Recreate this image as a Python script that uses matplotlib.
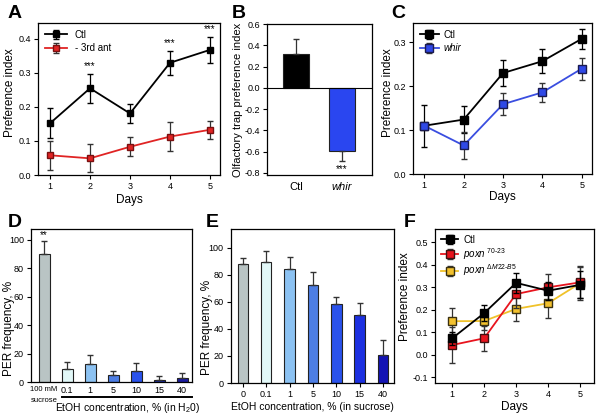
import numpy as np
import matplotlib
matplotlib.use("Agg")
import matplotlib.pyplot as plt

plt.rcParams['font.family'] = ['Liberation Sans', 'DejaVu Sans']
plt.rcParams['mathtext.fontset'] = 'custom'
plt.rcParams['mathtext.it'] = 'Liberation Sans:italic'
plt.rcParams['mathtext.rm'] = 'Liberation Sans'

# ---- data ----
days = [1, 2, 3, 4, 5]

# A
a_ctl = [0.152, 0.255, 0.181, 0.330, 0.368]
a_ctl_err = [0.044, 0.043, 0.029, 0.035, 0.038]
a_ant = [0.058, 0.049, 0.083, 0.113, 0.133]
a_ant_err = [0.043, 0.041, 0.028, 0.042, 0.027]
a_stars_days = [2, 4, 5]

# B
b_groups = ['Ctl', 'whir']
b_vals = [0.32, -0.59]
b_err = [0.14, 0.10]

# C
c_ctl = [0.110, 0.124, 0.230, 0.257, 0.308]
c_ctl_err = [0.048, 0.031, 0.029, 0.027, 0.023]
c_whir = [0.110, 0.065, 0.159, 0.186, 0.240]
c_whir_err = [0.0, 0.030, 0.025, 0.022, 0.025]

# D
d_labels = ['100 mM', '0.1', '1', '5', '10', '15', '40']
d_vals = [89.7, 8.9, 12.4, 4.7, 7.5, 1.6, 2.6]
d_err = [9.5, 5.3, 6.3, 2.8, 5.8, 2.8, 3.9]
d_colors = ['#b9c4c4', '#e2f8f8', '#8cc2f2', '#4d7ee4', '#2a52ec', '#1c2ea8', '#1a1aa0']

# E
e_labels = ['0', '0.1', '1', '5', '10', '15', '40']
e_vals = [88.1, 89.6, 84.4, 72.8, 58.5, 50.1, 21.0]
e_err = [4.5, 7.9, 8.6, 9.4, 5.0, 8.9, 11.0]
e_colors = ['#b9c4c4', '#e2f8f8', '#8cc2f2', '#4d7ee4', '#2a52ec', '#1c30e0', '#1414b4']

# F
f_ctl = [0.073, 0.185, 0.320, 0.285, 0.311]
f_ctl_err = [0.03, 0.035, 0.045, 0.04, 0.06]
f_p70 = [0.043, 0.073, 0.270, 0.300, 0.322]
f_p70_err = [0.08, 0.055, 0.06, 0.058, 0.07]
f_pdm = [0.149, 0.150, 0.204, 0.229, 0.318]
f_pdm_err = [0.058, 0.04, 0.055, 0.067, 0.075]

W, H = 600, 419
fig = plt.figure(figsize=(6, 4.19), dpi=100)


def box(l, t, r, b):
    return fig.add_axes([l / W, 1 - b / H, (r - l) / W, (b - t) / H])


def style(ax):
    for s in ax.spines.values():
        s.set_linewidth(0.9)
    ax.tick_params(labelsize=6.5, width=0.8, length=3, pad=2)


def panel(x, y, s):
    fig.text(x / W, 1 - y / H, s, fontsize=14, fontweight='bold', ha='left', va='center')


# ---- A ----
ax = box(38, 23, 220, 175)
style(ax)
ax.errorbar(days, a_ctl, yerr=a_ctl_err, color='black', marker='s', ms=5, mec='black',
            lw=1.3, capsize=2.5, elinewidth=0.9, label='Ctl')
ax.errorbar(days, a_ant, yerr=a_ant_err, color='#e02424', marker='s', ms=5, mec='#7a1010',
            ecolor='#333333', lw=1.3, capsize=2.5, elinewidth=0.9, label='- 3rd ant')
for d in a_stars_days:
    i = days.index(d)
    ax.text(d, a_ctl[i] + a_ctl_err[i] + 0.008, '***', ha='center', va='bottom', fontsize=7)
ax.set_xlim(0.7, 5.25)
ax.set_ylim(0, 0.447)
ax.set_xticks(days)
ax.set_yticks([0.0, 0.1, 0.2, 0.3, 0.4])
ax.set_yticklabels(['0.0', '0.1', '0.2', '0.3', '0.4'])
ax.set_xlabel('Days', fontsize=8.5, labelpad=2)
ax.set_ylabel('Preference index', fontsize=8.5)
ax.yaxis.set_label_coords(-0.121, 0.54)
ax.legend(loc='upper left', frameon=False, fontsize=7, handlelength=2.3, borderaxespad=0.3,
          labelspacing=0.35)
panel(8, 13, 'A')

# ---- B ----
ax = box(266.7, 24, 372, 175)
style(ax)
bx = np.arange(len(b_groups))
ax.bar(bx, b_vals, width=0.57, color=['black', '#2a46f0'], edgecolor='#222222', lw=0.8)
ax.errorbar(bx[0], b_vals[0], yerr=[[0], [b_err[0]]], fmt='none', ecolor='#333333', capsize=2.5, elinewidth=0.9)
ax.errorbar(bx[1], b_vals[1], yerr=[[b_err[1]], [0]], fmt='none', ecolor='#333333', capsize=2.5, elinewidth=0.9)
ax.axhline(0, color='black', lw=0.8)
ax.text(bx[1], -0.715, '***', ha='center', va='top', fontsize=7)
ax.set_xlim(-0.64, 1.65)
ax.set_ylim(-0.82, 0.6)
ax.set_yticks([-0.8, -0.6, -0.4, -0.2, 0.0, 0.2, 0.4, 0.6])
ax.set_yticklabels(['-0.8', '-0.6', '-0.4', '-0.2', '0.0', '0.2', '0.4', '0.6'])
ax.set_xticks(bx)
ax.set_xticklabels(b_groups, fontsize=8)
ax.get_xticklabels()[1].set_style('italic')
ax.tick_params(axis='x', length=0, pad=5)
ax.set_ylabel('Olfactory trap preference index', fontsize=8)
ax.yaxis.set_label_coords(-0.225, 0.5)
panel(232, 13, 'B')

# ---- C ----
ax = box(412.7, 23, 592, 174)
style(ax)
ax.errorbar(days, c_ctl, yerr=c_ctl_err, color='black', marker='s', ms=5.5, mec='black',
            lw=1.3, capsize=2.5, elinewidth=0.9, label='Ctl')
ax.errorbar(days, c_whir, yerr=c_whir_err, color='#3a4ee0', marker='s', ms=5.5, mec='#1a1a50',
            mfc='#2f48e6', ecolor='#333333', lw=1.3, capsize=2.5, elinewidth=0.9, label='whir')
ax.set_xlim(0.705, 5.26)
ax.set_ylim(0, 0.344)
ax.set_xticks(days)
ax.set_yticks([0.0, 0.1, 0.2, 0.3])
ax.set_yticklabels(['0.0', '0.1', '0.2', '0.3'])
ax.set_xlabel('Days', fontsize=8.5, labelpad=1)
ax.set_ylabel('Preference index', fontsize=8.5)
ax.yaxis.set_label_coords(-0.104, 0.536)
leg = ax.legend(loc='upper left', frameon=False, fontsize=7, handlelength=2.0, borderaxespad=0.3,
                labelspacing=0.35, handletextpad=0.5)
leg.get_texts()[1].set_style('italic')
panel(391, 13, 'C')

# ---- D ----
ax = box(31, 229, 192, 382)
style(ax)
dx = np.arange(len(d_labels))
ax.bar(dx, d_vals, width=0.47, color=d_colors, edgecolor='#222222', lw=0.8)
ax.errorbar(dx, d_vals, yerr=[np.zeros(len(d_err)), d_err], fmt='none', ecolor='#333333',
            capsize=2.5, elinewidth=0.9)
ax.text(dx[0], d_vals[0] + d_err[0] + 0.5, '**', ha='center', va='bottom', fontsize=7)
ax.set_xlim(-0.57, 6.43)
ax.set_ylim(0, 107.5)
ax.set_yticks([0, 20, 40, 60, 80, 100])
ax.set_xticks(dx)
ax.set_xticklabels(d_labels)
ax.get_xticklabels()[0].set_fontsize(5.5)
ax.tick_params(axis='x', length=0, pad=3)
ax.set_ylabel('PER frequency, %', fontsize=8.5)
ax.yaxis.set_label_coords(-0.1, 0.35)
ax.text(dx[0], -0.123, 'sucrose', transform=ax.get_xaxis_transform(), ha='center', va='center',
        fontsize=5.5)
ax.plot([0.19, 1.0], [-0.10, -0.10], transform=ax.transAxes, color='black', lw=1.4, clip_on=False)
ax.text(0.6, -0.17, 'EtOH concentration, % (in H$_2$0)', transform=ax.transAxes, ha='center',
        va='center', fontsize=7.5)
panel(8, 222, 'D')

# ---- E ----
ax = box(230.7, 229, 394, 383)
style(ax)
ex = np.arange(len(e_labels))
ax.bar(ex, e_vals, width=0.45, color=e_colors, edgecolor='#222222', lw=0.8)
ax.errorbar(ex, e_vals, yerr=[np.zeros(len(e_err)), e_err], fmt='none', ecolor='#333333',
            capsize=2.5, elinewidth=0.9)
ax.set_xlim(-0.52, 6.47)
ax.set_ylim(0, 114)
ax.set_yticks([0, 20, 40, 60, 80, 100])
ax.set_xticks(ex)
ax.set_xticklabels(e_labels)
ax.tick_params(axis='x', length=3, pad=2)
ax.set_xlabel('EtOH concentration, % (in sucrose)', fontsize=7.5, labelpad=2)
ax.set_ylabel('PER frequency, %', fontsize=8.5)
ax.yaxis.set_label_coords(-0.11, 0.36)
panel(206, 222, 'E')

# ---- F ----
ax = box(435, 229, 594, 382.7)
style(ax)
ax.errorbar(days, f_pdm, yerr=f_pdm_err, color='#f0c22a', marker='s', ms=6, mec='#3a3010',
            mfc='#f2c12e', ecolor='#333333', lw=1.3, capsize=2.5, elinewidth=0.9,
            label='$\\mathit{poxn}^{\\ \\Delta M22\\text{-}B5}$', zorder=3)
ax.errorbar(days, f_p70, yerr=f_p70_err, color='#e8141e', marker='s', ms=6, mec='#401010',
            mfc='#e8141e', ecolor='#333333', lw=1.3, capsize=2.5, elinewidth=0.9,
            label='$\\mathit{poxn}^{\\ 70\\text{-}23}$', zorder=4)
ax.errorbar(days, f_ctl, yerr=f_ctl_err, color='black', marker='s', ms=6, mec='black',
            lw=1.3, capsize=2.5, elinewidth=0.9, label='Ctl', zorder=5)
ax.set_xlim(0.46, 5.44)
ax.set_ylim(-0.125, 0.56)
ax.set_xticks(days)
ax.set_yticks([-0.1, 0.0, 0.1, 0.2, 0.3, 0.4, 0.5])
ax.set_yticklabels(['-0.1', '0.0', '0.1', '0.2', '0.3', '0.4', '0.5'])
ax.set_xlabel('Days', fontsize=8.5, labelpad=2)
ax.set_ylabel('Preference index', fontsize=8.5)
ax.yaxis.set_label_coords(-0.151, 0.557)
h, l = ax.get_legend_handles_labels()
ax.legend(h[::-1], l[::-1], loc='upper left', frameon=False, fontsize=7, handlelength=1.8,
          borderaxespad=0.2, labelspacing=0.1, handletextpad=0.5)
panel(404, 222, 'F')

fig.savefig('out.png', dpi=100)
